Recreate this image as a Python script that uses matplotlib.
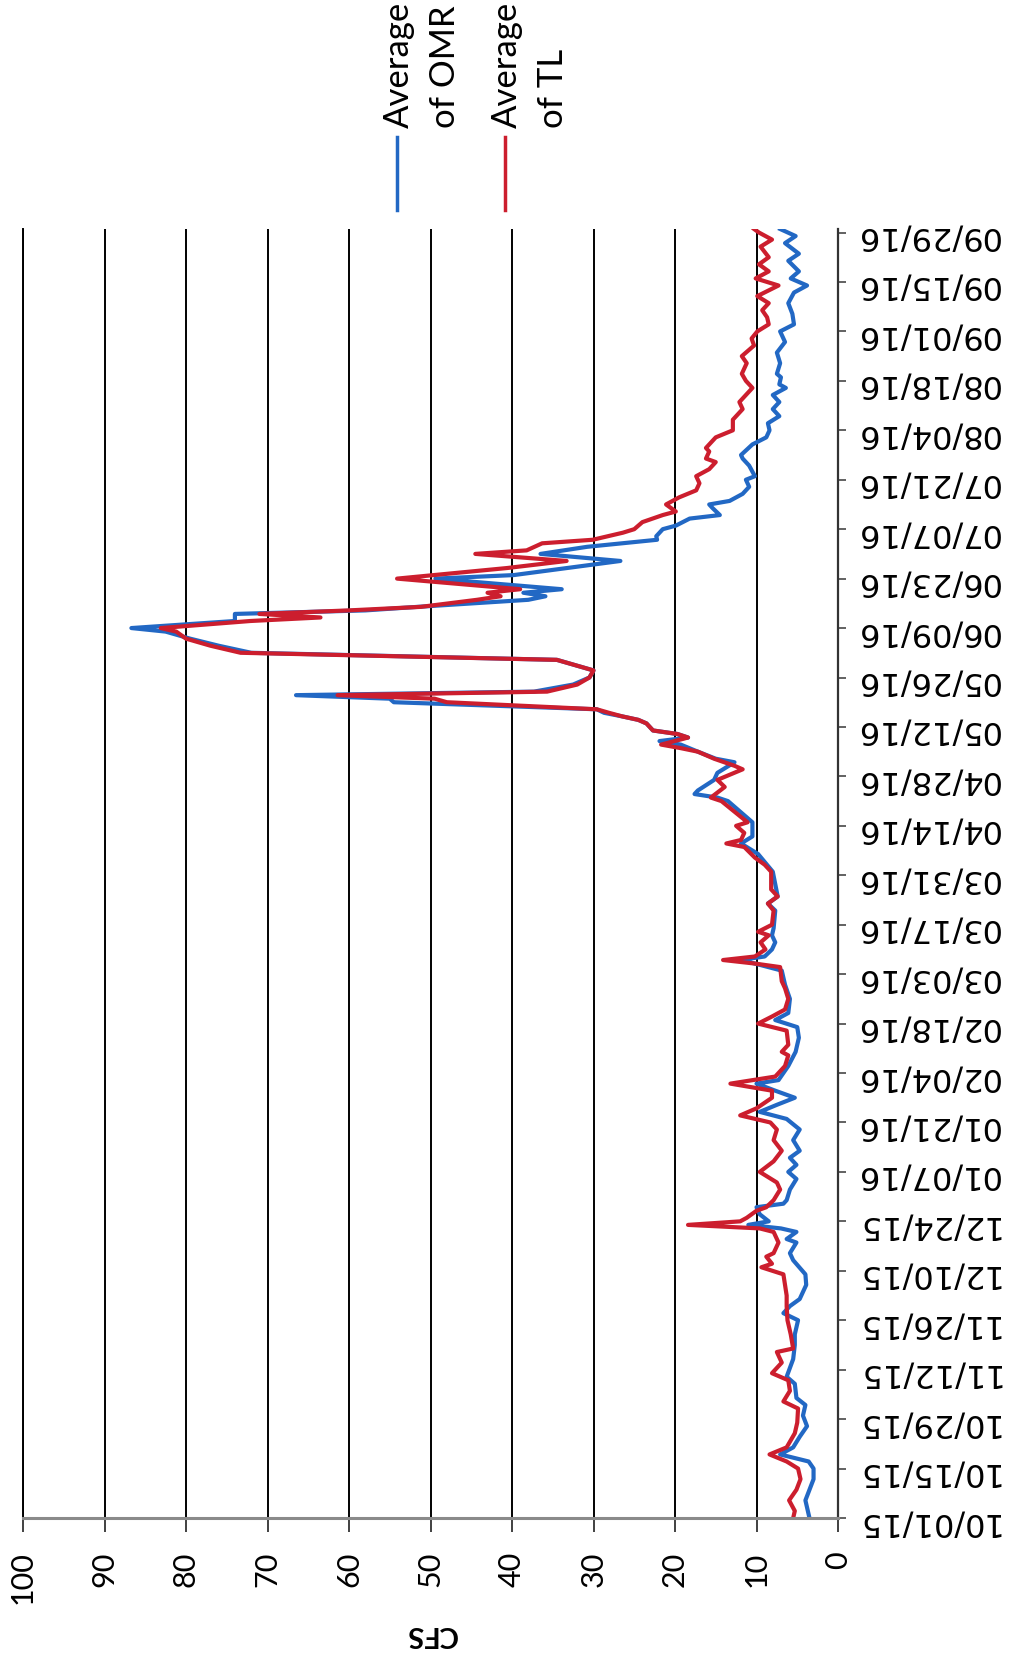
import matplotlib
matplotlib.use("Agg")
import matplotlib.pyplot as plt
import matplotlib.dates as mdates
from matplotlib.lines import Line2D
import numpy as np
import pandas as pd

# Дни от 10/01/15 и значения (CFS)
start = pd.Timestamp("2015-10-01")

omr_day = [0, 5, 11, 14, 16, 18, 20, 23, 26, 29, 32, 34, 38, 40, 45, 49, 52, 56, 58, 60,
           62, 66, 69, 73, 75, 78, 79, 81, 82, 83, 84, 86, 88, 89, 90, 93, 96, 98, 100, 102,
           104, 107, 110, 113, 115, 117, 119, 121, 123, 124, 128, 132, 136, 139, 141, 143, 147, 151, 155, 157,
           158, 159, 161, 163, 165, 167, 172, 174, 176, 183, 188, 191, 193, 197, 199, 203, 204, 205, 206, 209,
           211, 214, 215, 217, 219, 220, 221, 222, 223, 225, 226, 227, 228, 229, 231, 232, 233, 234, 236, 238,
           240, 243, 245, 247, 249, 251, 252, 254, 256, 257, 258, 260, 261, 262, 263, 266, 267, 271, 273, 275,
           277, 278, 280, 281, 283, 284, 286, 287, 288, 290, 292, 294, 295, 298, 300, 301, 304, 306, 308, 310,
           312, 314, 316, 318, 320, 321, 323, 324, 327, 330, 333, 336, 338, 341, 344, 347, 349, 351, 353, 356,
           358, 361, 363, 365]
omr_cfs = [3.5, 4.0, 3.0, 3.0, 3.6, 7.1, 5.5, 4.7, 3.8, 4.3, 4.0, 5.1, 5.3, 6.3, 5.5, 5.3, 5.3, 4.9, 6.7, 5.9,
           4.7, 3.9, 4.0, 5.5, 5.9, 5.1, 6.3, 5.1, 7.0, 11.0, 8.5, 9.6, 10.0, 6.7, 6.3, 5.9, 5.1, 6.1, 5.1, 5.9,
           4.7, 5.5, 4.7, 6.3, 9.6, 7.5, 5.3, 7.7, 10.0, 7.3, 6.1, 5.2, 4.8, 5.0, 7.7, 6.1, 5.9, 6.5, 6.9, 10.2,
           12.0, 9.0, 8.1, 7.7, 8.1, 7.9, 7.7, 8.6, 7.4, 8.0, 9.8, 11.9, 10.5, 10.5, 11.5, 13.5, 14.8, 17.6, 17.2, 15.2,
           14.8, 12.7, 15.0, 17.2, 19.3, 21.9, 18.4, 19.7, 22.7, 23.5, 24.5, 26.5, 28.7, 29.6, 54.5, 55.0, 66.5, 37.3, 32.5, 30.5,
           30.0, 34.5, 72.0, 76.0, 79.5, 82.5, 86.7, 74.0, 74.0, 58.0, 51.6, 38.0, 35.9, 38.6, 33.9, 49.4, 39.8, 26.7, 36.5, 30.8,
           22.2, 22.3, 21.5, 19.9, 18.2, 14.5, 15.4, 15.8, 13.3, 11.7, 10.9, 11.3, 10.2, 10.9, 11.7, 11.9, 10.5, 8.8, 8.4, 8.6,
           7.2, 8.0, 7.2, 8.0, 6.4, 7.2, 7.0, 7.5, 7.1, 7.5, 6.5, 7.1, 5.4, 5.6, 6.1, 5.4, 3.8, 5.8, 4.8, 6.1,
           4.8, 6.5, 5.2, 7.1]

tl_day = [0, 2, 5, 8, 11, 14, 16, 18, 20, 24, 27, 31, 33, 36, 39, 41, 44, 47, 48, 52,
          56, 60, 63, 66, 69, 71, 72, 74, 75, 78, 81, 82, 83, 84, 85, 87, 88, 90, 93, 95,
          98, 101, 104, 107, 110, 112, 114, 116, 119, 121, 123, 125, 128, 131, 132, 134, 138, 140, 142, 144,
          147, 150, 152, 156, 157, 158, 159, 161, 163, 165, 166, 168, 172, 174, 176, 178, 183, 185, 187, 190,
          191, 192, 194, 196, 197, 200, 203, 204, 207, 209, 212, 213, 215, 217, 218, 219, 221, 222, 223, 225,
          226, 227, 228, 229, 231, 232, 233, 234, 236, 238, 240, 243, 245, 247, 249, 251, 252, 254, 255, 256,
          257, 258, 260, 261, 262, 263, 266, 269, 271, 273, 274, 276, 277, 279, 280, 282, 284, 285, 287, 289,
          291, 293, 295, 297, 299, 300, 302, 303, 306, 308, 311, 314, 316, 318, 320, 322, 324, 327, 329, 332,
          334, 336, 338, 340, 342, 344, 346, 349, 351, 353, 355, 357, 360, 362, 364, 365]
tl_cfs = [5.5, 5.3, 6.0, 5.1, 4.6, 4.9, 6.3, 8.4, 6.3, 5.3, 5.0, 4.9, 6.7, 5.9, 6.1, 8.1, 6.9, 7.5, 5.5, 5.8,
          6.2, 6.3, 6.3, 6.5, 6.7, 9.4, 8.1, 8.8, 7.9, 7.3, 7.9, 9.6, 18.4, 12.0, 11.2, 10.0, 8.8, 7.9, 7.1, 7.5,
          9.6, 7.9, 6.9, 7.9, 7.5, 8.3, 12.0, 10.0, 8.1, 8.1, 13.2, 7.7, 6.5, 6.1, 6.9, 6.1, 6.3, 9.8, 8.1, 6.5,
          6.1, 6.5, 6.9, 7.1, 10.2, 14.1, 10.2, 8.9, 9.5, 8.5, 9.8, 8.1, 7.9, 8.6, 7.4, 8.2, 8.2, 9.0, 10.2, 11.5,
          13.7, 11.9, 11.5, 12.5, 11.1, 12.7, 14.3, 15.6, 13.9, 14.8, 11.7, 12.7, 15.2, 17.2, 19.3, 21.7, 18.4, 19.7, 22.7, 23.5,
          24.5, 26.5, 28.1, 29.6, 48.0, 49.5, 61.4, 35.7, 32.0, 30.5, 30.0, 34.5, 73.3, 77.0, 80.0, 81.2, 83.1, 72.1, 63.5, 71.0,
          60.0, 51.2, 44.3, 41.4, 43.0, 39.0, 54.1, 40.6, 33.3, 44.5, 38.2, 36.3, 30.1, 26.4, 25.0, 24.0, 21.5, 19.9, 21.1, 19.5,
          17.4, 17.0, 17.4, 15.8, 15.0, 16.2, 15.8, 16.2, 15.0, 12.9, 12.9, 11.7, 12.1, 11.3, 10.5, 11.3, 11.8, 11.2, 11.8, 10.3,
          10.6, 9.9, 8.5, 8.7, 9.3, 8.5, 9.9, 7.3, 10.1, 8.5, 9.7, 8.5, 9.5, 8.1, 9.7, 10.3]

cfs_ticks = [0, 10, 20, 30, 40, 50, 60, 70, 80, 90, 100]
legend_labels = ["Average\nof OMR", "Average\nof TL"]
colors = ["#2268c4", "#cc1e2e"]

omr_dates = start + pd.to_timedelta(omr_day, unit="D")
tl_dates = start + pd.to_timedelta(tl_day, unit="D")
date_ticks = pd.date_range(start, "2016-09-29", freq="14D")

# Развернутый (повернутый) график: CFS по горизонтали, даты по вертикали
fig = plt.figure(figsize=(10.17, 16.63), dpi=100)
ax = fig.add_axes([23 / 1017, 145 / 1663, 815 / 1017, 1289 / 1663])

ax.plot(omr_cfs, omr_dates, color=colors[0], lw=3.0, solid_joinstyle="round")
ax.plot(tl_cfs, tl_dates, color=colors[1], lw=3.0, solid_joinstyle="round")

ax.set_xlim(100, 0)
ax.set_ylim(start, start + pd.Timedelta(days=365))

ax.set_xticks(cfs_ticks)
ax.set_xticklabels([str(v) for v in cfs_ticks], rotation=90, fontsize=22, family="Lato")
ax.grid(axis="x", color="black", lw=1.4)
ax.tick_params(axis="x", length=10, width=1.3, color="#333333", pad=14)

ax.yaxis.tick_right()
ax.set_yticks(date_ticks)
ax.yaxis.set_major_formatter(mdates.DateFormatter("%m/%d/%y"))
ax.tick_params(axis="y", length=6, width=1.3, color="#555555", pad=6,
               labelrotation=180, labelsize=23, labelfontfamily="DejaVu Sans")

ax.spines["top"].set_visible(False)
ax.spines["left"].set_color("black")
ax.spines["left"].set_linewidth(1.4)
ax.spines["right"].set_color("#333333")
ax.spines["right"].set_linewidth(1.6)
ax.spines["bottom"].set_color("#8a8a8a")
ax.spines["bottom"].set_linewidth(2.2)

ax.set_xlabel("CFS", rotation=180, fontsize=21, fontweight="bold", family="Lato", labelpad=12)

# Легенда (повернута как весь рисунок)
leg_x = [397, 505]
for i in range(2):
    x = leg_x[i] / 1017
    fig.add_artist(Line2D([x, x], [(1663 - 210) / 1663, (1663 - 137) / 1663],
                          color=colors[i], lw=2.5, transform=fig.transFigure))
    fig.text(x + 25 / 1017, (1663 - 128) / 1663, legend_labels[i], rotation=90,
             ha="center", va="bottom", multialignment="left", fontsize=25,
             family="Lato", linespacing=1.55)

fig.savefig("out.png", dpi=100, facecolor="white")
